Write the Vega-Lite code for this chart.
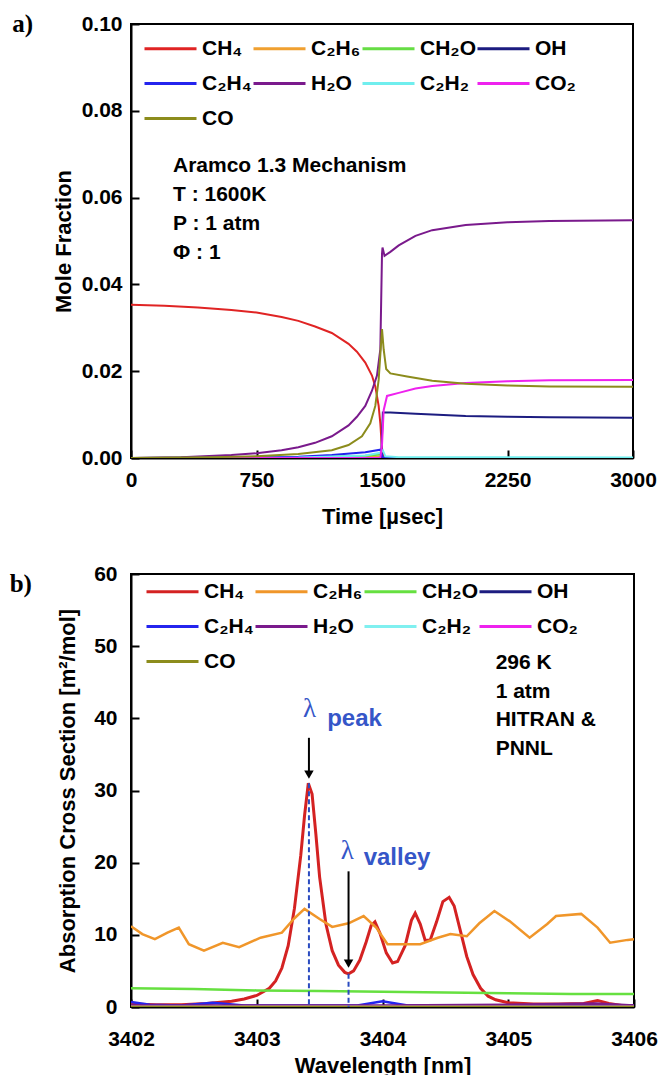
{
  "$schema": "https://vega.github.io/schema/vega-lite/v6.json",
  "padding": {"left": 8, "top": 11, "right": 5, "bottom": 0},
  "background": "white",
  "bounds": "flush",
  "spacing": 116,
  "resolve": {"scale": {"color": "independent"}, "legend": {"color": "independent"}},
  "config": {
    "font": "Liberation Sans",
    "view": {"stroke": "black", "strokeWidth": 2},
    "axis": {
      "grid": false, "domainColor": "black", "domainWidth": 2, "labelFlush": false,
      "tickColor": "black", "tickWidth": 2, "tickSize": -8,
      "labelFont": "Liberation Sans", "labelFontWeight": "bold", "labelFontSize": 21, "labelColor": "black",
      "titleFont": "Liberation Sans", "titleFontWeight": "bold", "titleFontSize": 22, "titleColor": "black"
    },
    "legend": {
      "orient": "none", "direction": "horizontal", "columns": 4, "symbolType": "M-2,0H2", "symbolSize": 676,
      "symbolStrokeWidth": 3, "labelFont": "Liberation Sans", "labelFontSize": 21, "labelFontWeight": "bold",
      "labelColor": "black", "labelOffset": 17, "rowPadding": 10, "columnPadding": -5, "padding": 0, "labelLimit": 300
    }
  },
  "datasets": {
    "a": [
      {"s": "CH₄", "t": 0, "v": 0.0353}, {"s": "CH₄", "t": 200, "v": 0.0351}, {"s": "CH₄", "t": 400, "v": 0.0347},
      {"s": "CH₄", "t": 600, "v": 0.0341}, {"s": "CH₄", "t": 750, "v": 0.0335}, {"s": "CH₄", "t": 900, "v": 0.0325},
      {"s": "CH₄", "t": 1000, "v": 0.0316}, {"s": "CH₄", "t": 1100, "v": 0.0303}, {"s": "CH₄", "t": 1200, "v": 0.0288},
      {"s": "CH₄", "t": 1300, "v": 0.0263}, {"s": "CH₄", "t": 1350, "v": 0.0245}, {"s": "CH₄", "t": 1400, "v": 0.022},
      {"s": "CH₄", "t": 1440, "v": 0.019}, {"s": "CH₄", "t": 1460, "v": 0.0165}, {"s": "CH₄", "t": 1480, "v": 0.012},
      {"s": "CH₄", "t": 1490, "v": 0.008}, {"s": "CH₄", "t": 1500, "v": 0.002}, {"s": "CH₄", "t": 1510, "v": 0.0001},
      {"s": "CH₄", "t": 1520, "v": 0}, {"s": "CH₄", "t": 3000, "v": 0},

      {"s": "C₂H₆", "t": 0, "v": 0}, {"s": "C₂H₆", "t": 1000, "v": 0.0002}, {"s": "C₂H₆", "t": 1300, "v": 0.0004},
      {"s": "C₂H₆", "t": 1450, "v": 0.0005}, {"s": "C₂H₆", "t": 1500, "v": 0.0001}, {"s": "C₂H₆", "t": 1520, "v": 0},
      {"s": "C₂H₆", "t": 3000, "v": 0},

      {"s": "CH₂O", "t": 0, "v": 0}, {"s": "CH₂O", "t": 1000, "v": 0.0002}, {"s": "CH₂O", "t": 1400, "v": 0.0005},
      {"s": "CH₂O", "t": 1490, "v": 0.0008}, {"s": "CH₂O", "t": 1505, "v": 0.0001}, {"s": "CH₂O", "t": 1520, "v": 0},
      {"s": "CH₂O", "t": 3000, "v": 0},

      {"s": "OH", "t": 0, "v": 0}, {"s": "OH", "t": 1495, "v": 0}, {"s": "OH", "t": 1505, "v": 0.0105},
      {"s": "OH", "t": 1550, "v": 0.0105}, {"s": "OH", "t": 1700, "v": 0.0102}, {"s": "OH", "t": 2000, "v": 0.0097},
      {"s": "OH", "t": 2250, "v": 0.0095}, {"s": "OH", "t": 2500, "v": 0.0094}, {"s": "OH", "t": 3000, "v": 0.0093},

      {"s": "C₂H₄", "t": 0, "v": 0}, {"s": "C₂H₄", "t": 750, "v": 0.0001}, {"s": "C₂H₄", "t": 1000, "v": 0.0003},
      {"s": "C₂H₄", "t": 1200, "v": 0.0007}, {"s": "C₂H₄", "t": 1400, "v": 0.0013}, {"s": "C₂H₄", "t": 1490, "v": 0.0019},
      {"s": "C₂H₄", "t": 1505, "v": 0.0002}, {"s": "C₂H₄", "t": 1520, "v": 0}, {"s": "C₂H₄", "t": 3000, "v": 0},

      {"s": "H₂O", "t": 0, "v": 0}, {"s": "H₂O", "t": 300, "v": 0.0002}, {"s": "H₂O", "t": 600, "v": 0.0007},
      {"s": "H₂O", "t": 750, "v": 0.0011}, {"s": "H₂O", "t": 900, "v": 0.0018}, {"s": "H₂O", "t": 1000, "v": 0.0025},
      {"s": "H₂O", "t": 1100, "v": 0.0035}, {"s": "H₂O", "t": 1200, "v": 0.005}, {"s": "H₂O", "t": 1300, "v": 0.0075},
      {"s": "H₂O", "t": 1350, "v": 0.0095}, {"s": "H₂O", "t": 1400, "v": 0.012}, {"s": "H₂O", "t": 1440, "v": 0.0155},
      {"s": "H₂O", "t": 1470, "v": 0.019}, {"s": "H₂O", "t": 1490, "v": 0.025}, {"s": "H₂O", "t": 1500, "v": 0.047},
      {"s": "H₂O", "t": 1503, "v": 0.0485}, {"s": "H₂O", "t": 1515, "v": 0.0466}, {"s": "H₂O", "t": 1550, "v": 0.0475},
      {"s": "H₂O", "t": 1600, "v": 0.049}, {"s": "H₂O", "t": 1700, "v": 0.0512}, {"s": "H₂O", "t": 1800, "v": 0.0525},
      {"s": "H₂O", "t": 2000, "v": 0.0537}, {"s": "H₂O", "t": 2250, "v": 0.0543}, {"s": "H₂O", "t": 2500, "v": 0.0546},
      {"s": "H₂O", "t": 3000, "v": 0.0548},

      {"s": "C₂H₂", "t": 0, "v": 0}, {"s": "C₂H₂", "t": 1000, "v": 0.0001}, {"s": "C₂H₂", "t": 1400, "v": 0.0006},
      {"s": "C₂H₂", "t": 1490, "v": 0.0012}, {"s": "C₂H₂", "t": 1505, "v": 0.0018}, {"s": "C₂H₂", "t": 1520, "v": 0.0004},
      {"s": "C₂H₂", "t": 1600, "v": 0.0002}, {"s": "C₂H₂", "t": 3000, "v": 0.0001},

      {"s": "CO₂", "t": 0, "v": 0}, {"s": "CO₂", "t": 1490, "v": 0}, {"s": "CO₂", "t": 1500, "v": 0.003},
      {"s": "CO₂", "t": 1510, "v": 0.011}, {"s": "CO₂", "t": 1530, "v": 0.0143}, {"s": "CO₂", "t": 1600, "v": 0.015},
      {"s": "CO₂", "t": 1700, "v": 0.016}, {"s": "CO₂", "t": 1800, "v": 0.0166}, {"s": "CO₂", "t": 2000, "v": 0.0173},
      {"s": "CO₂", "t": 2250, "v": 0.0177}, {"s": "CO₂", "t": 2500, "v": 0.0179}, {"s": "CO₂", "t": 3000, "v": 0.018},

      {"s": "CO", "t": 0, "v": 0}, {"s": "CO", "t": 500, "v": 0.0002}, {"s": "CO", "t": 750, "v": 0.0004},
      {"s": "CO", "t": 1000, "v": 0.0009}, {"s": "CO", "t": 1200, "v": 0.0018}, {"s": "CO", "t": 1300, "v": 0.003},
      {"s": "CO", "t": 1380, "v": 0.005}, {"s": "CO", "t": 1430, "v": 0.008}, {"s": "CO", "t": 1460, "v": 0.012},
      {"s": "CO", "t": 1480, "v": 0.018}, {"s": "CO", "t": 1492, "v": 0.025}, {"s": "CO", "t": 1500, "v": 0.0297},
      {"s": "CO", "t": 1510, "v": 0.025}, {"s": "CO", "t": 1525, "v": 0.0205}, {"s": "CO", "t": 1550, "v": 0.0195},
      {"s": "CO", "t": 1650, "v": 0.0188}, {"s": "CO", "t": 1800, "v": 0.0178}, {"s": "CO", "t": 2000, "v": 0.0171},
      {"s": "CO", "t": 2250, "v": 0.0167}, {"s": "CO", "t": 2500, "v": 0.0165}, {"s": "CO", "t": 3000, "v": 0.0164}
    ],
    "annA": [
      {"label": "Aramco 1.3 Mechanism", "t": 251, "v": 0.0673},
      {"label": "T : 1600K", "t": 251, "v": 0.0606},
      {"label": "P : 1 atm", "t": 251, "v": 0.0539},
      {"label": "Φ : 1", "t": 251, "v": 0.0472}
    ],
    "b": [
      {"s": "CH₄", "w": 3402.0, "v": 0.4}, {"s": "CH₄", "w": 3402.2, "v": 0.3}, {"s": "CH₄", "w": 3402.4, "v": 0.3},
      {"s": "CH₄", "w": 3402.6, "v": 0.5}, {"s": "CH₄", "w": 3402.8, "v": 0.8}, {"s": "CH₄", "w": 3402.9, "v": 1.1},
      {"s": "CH₄", "w": 3403.0, "v": 1.6}, {"s": "CH₄", "w": 3403.1, "v": 2.6}, {"s": "CH₄", "w": 3403.15, "v": 3.6},
      {"s": "CH₄", "w": 3403.2, "v": 5.4}, {"s": "CH₄", "w": 3403.25, "v": 8.5}, {"s": "CH₄", "w": 3403.3, "v": 13.7},
      {"s": "CH₄", "w": 3403.35, "v": 21}, {"s": "CH₄", "w": 3403.38, "v": 26.5}, {"s": "CH₄", "w": 3403.41, "v": 31.0},
      {"s": "CH₄", "w": 3403.44, "v": 29.5}, {"s": "CH₄", "w": 3403.47, "v": 24}, {"s": "CH₄", "w": 3403.5, "v": 18},
      {"s": "CH₄", "w": 3403.55, "v": 11.5}, {"s": "CH₄", "w": 3403.6, "v": 7.8}, {"s": "CH₄", "w": 3403.65, "v": 5.8},
      {"s": "CH₄", "w": 3403.7, "v": 4.8}, {"s": "CH₄", "w": 3403.73, "v": 4.6}, {"s": "CH₄", "w": 3403.77, "v": 5.0},
      {"s": "CH₄", "w": 3403.82, "v": 6.5}, {"s": "CH₄", "w": 3403.87, "v": 9.0}, {"s": "CH₄", "w": 3403.91, "v": 11.3},
      {"s": "CH₄", "w": 3403.94, "v": 11.8}, {"s": "CH₄", "w": 3403.98, "v": 10.2}, {"s": "CH₄", "w": 3404.03, "v": 7.5},
      {"s": "CH₄", "w": 3404.08, "v": 6.1}, {"s": "CH₄", "w": 3404.12, "v": 6.3}, {"s": "CH₄", "w": 3404.18, "v": 8.5},
      {"s": "CH₄", "w": 3404.23, "v": 12.0}, {"s": "CH₄", "w": 3404.26, "v": 13.0}, {"s": "CH₄", "w": 3404.3, "v": 11.5},
      {"s": "CH₄", "w": 3404.34, "v": 9.2}, {"s": "CH₄", "w": 3404.38, "v": 9.3}, {"s": "CH₄", "w": 3404.43, "v": 11.8},
      {"s": "CH₄", "w": 3404.48, "v": 14.6}, {"s": "CH₄", "w": 3404.53, "v": 15.2}, {"s": "CH₄", "w": 3404.57, "v": 14.0},
      {"s": "CH₄", "w": 3404.62, "v": 10.5}, {"s": "CH₄", "w": 3404.67, "v": 7.0}, {"s": "CH₄", "w": 3404.72, "v": 4.5},
      {"s": "CH₄", "w": 3404.78, "v": 2.6}, {"s": "CH₄", "w": 3404.84, "v": 1.5}, {"s": "CH₄", "w": 3404.9, "v": 1.0},
      {"s": "CH₄", "w": 3405.0, "v": 0.6}, {"s": "CH₄", "w": 3405.2, "v": 0.4}, {"s": "CH₄", "w": 3405.4, "v": 0.4},
      {"s": "CH₄", "w": 3405.6, "v": 0.5}, {"s": "CH₄", "w": 3405.71, "v": 0.9}, {"s": "CH₄", "w": 3405.8, "v": 0.5},
      {"s": "CH₄", "w": 3405.9, "v": 0.2}, {"s": "CH₄", "w": 3406.0, "v": 0.2},

      {"s": "C₂H₆", "w": 3402.0, "v": 11.2}, {"s": "C₂H₆", "w": 3402.09, "v": 10.1}, {"s": "C₂H₆", "w": 3402.19, "v": 9.4},
      {"s": "C₂H₆", "w": 3402.29, "v": 10.3}, {"s": "C₂H₆", "w": 3402.38, "v": 11.0}, {"s": "C₂H₆", "w": 3402.46, "v": 8.7},
      {"s": "C₂H₆", "w": 3402.58, "v": 7.8}, {"s": "C₂H₆", "w": 3402.73, "v": 8.9}, {"s": "C₂H₆", "w": 3402.86, "v": 8.3},
      {"s": "C₂H₆", "w": 3403.03, "v": 9.6}, {"s": "C₂H₆", "w": 3403.2, "v": 10.3}, {"s": "C₂H₆", "w": 3403.3, "v": 12.3},
      {"s": "C₂H₆", "w": 3403.38, "v": 13.6}, {"s": "C₂H₆", "w": 3403.5, "v": 12.2}, {"s": "C₂H₆", "w": 3403.6, "v": 11.1},
      {"s": "C₂H₆", "w": 3403.73, "v": 11.6}, {"s": "C₂H₆", "w": 3403.85, "v": 12.6}, {"s": "C₂H₆", "w": 3403.95, "v": 11.0},
      {"s": "C₂H₆", "w": 3404.04, "v": 8.7}, {"s": "C₂H₆", "w": 3404.3, "v": 8.7}, {"s": "C₂H₆", "w": 3404.44, "v": 9.6},
      {"s": "C₂H₆", "w": 3404.54, "v": 10.1}, {"s": "C₂H₆", "w": 3404.67, "v": 9.8}, {"s": "C₂H₆", "w": 3404.77, "v": 11.6},
      {"s": "C₂H₆", "w": 3404.89, "v": 13.3}, {"s": "C₂H₆", "w": 3405.01, "v": 11.9}, {"s": "C₂H₆", "w": 3405.17, "v": 9.6},
      {"s": "C₂H₆", "w": 3405.31, "v": 11.5}, {"s": "C₂H₆", "w": 3405.38, "v": 12.6}, {"s": "C₂H₆", "w": 3405.58, "v": 12.9},
      {"s": "C₂H₆", "w": 3405.71, "v": 11.0}, {"s": "C₂H₆", "w": 3405.81, "v": 8.9}, {"s": "C₂H₆", "w": 3405.95, "v": 9.3},
      {"s": "C₂H₆", "w": 3406.0, "v": 9.4},

      {"s": "CH₂O", "w": 3402.0, "v": 2.6}, {"s": "CH₂O", "w": 3402.5, "v": 2.5}, {"s": "CH₂O", "w": 3403.0, "v": 2.3},
      {"s": "CH₂O", "w": 3403.5, "v": 2.2}, {"s": "CH₂O", "w": 3404.0, "v": 2.1}, {"s": "CH₂O", "w": 3404.5, "v": 2.0},
      {"s": "CH₂O", "w": 3405.0, "v": 1.9}, {"s": "CH₂O", "w": 3405.5, "v": 1.8}, {"s": "CH₂O", "w": 3406.0, "v": 1.8},

      {"s": "OH", "w": 3402.0, "v": 0.15}, {"s": "OH", "w": 3403.0, "v": 0.1}, {"s": "OH", "w": 3404.0, "v": 0.1},
      {"s": "OH", "w": 3405.0, "v": 0.1}, {"s": "OH", "w": 3406.0, "v": 0.1},

      {"s": "C₂H₄", "w": 3402.0, "v": 0.7}, {"s": "C₂H₄", "w": 3402.15, "v": 0.3}, {"s": "C₂H₄", "w": 3402.4, "v": 0.2},
      {"s": "C₂H₄", "w": 3402.65, "v": 0.6}, {"s": "C₂H₄", "w": 3402.9, "v": 0.2}, {"s": "C₂H₄", "w": 3403.8, "v": 0.2},
      {"s": "C₂H₄", "w": 3404.0, "v": 0.8}, {"s": "C₂H₄", "w": 3404.2, "v": 0.2}, {"s": "C₂H₄", "w": 3406.0, "v": 0.2},

      {"s": "H₂O", "w": 3402.0, "v": 0.2}, {"s": "H₂O", "w": 3403.0, "v": 0.2}, {"s": "H₂O", "w": 3404.0, "v": 0.2},
      {"s": "H₂O", "w": 3405.0, "v": 0.3}, {"s": "H₂O", "w": 3405.7, "v": 0.5}, {"s": "H₂O", "w": 3406.0, "v": 0.2},

      {"s": "C₂H₂", "w": 3402.0, "v": 0.05}, {"s": "C₂H₂", "w": 3406.0, "v": 0.05},
      {"s": "CO₂", "w": 3402.0, "v": 0.05}, {"s": "CO₂", "w": 3406.0, "v": 0.05},
      {"s": "CO", "w": 3402.0, "v": 0.05}, {"s": "CO", "w": 3406.0, "v": 0.05}
    ],
    "dashes": [
      {"w": 3403.415, "v": 31.0, "z": 0},
      {"w": 3403.73, "v": 4.6, "z": 0}
    ],
    "arrows": [
      {"w": 3403.415, "top": 37.3, "tip": 32.2},
      {"w": 3403.73, "top": 18.8, "tip": 6.0}
    ],
    "lambdas": [
      {"w": 3403.42, "v": 41.3},
      {"w": 3403.72, "v": 21.6}
    ],
    "subs": [
      {"label": "peak", "w": 3403.56, "v": 39.9},
      {"label": "valley", "w": 3403.85, "v": 20.6}
    ],
    "annB": [
      {"label": "296 K", "w": 3404.9, "v": 47.6},
      {"label": "1 atm", "w": 3404.9, "v": 43.6},
      {"label": "HITRAN &", "w": 3404.9, "v": 39.7},
      {"label": "PNNL", "w": 3404.9, "v": 35.7}
    ]
  },
  "vconcat": [
    {
      "width": 502,
      "height": 434,
      "title": {"text": "a)", "anchor": "start", "frame": "bounds", "font": "Liberation Serif", "fontSize": 25, "fontWeight": "bold", "color": "black", "dx": -40, "dy": 28},
      "layer": [
        {
          "data": {"name": "a"},
          "mark": {"type": "line", "strokeWidth": 2, "clip": true},
          "encoding": {
            "x": {"field": "t", "type": "quantitative", "scale": {"domain": [0, 3000], "nice": false},
                  "axis": {"values": [0, 750, 1500, 2250, 3000], "format": "d", "title": "Time [µsec]", "labelPadding": 19, "titlePadding": 16}},
            "y": {"field": "v", "type": "quantitative", "scale": {"domain": [0, 0.1], "nice": false},
                  "axis": {"values": [0, 0.02, 0.04, 0.06, 0.08, 0.1], "format": ".2f", "title": "Mole Fraction", "labelPadding": 17, "titlePadding": 6}},
            "color": {"field": "s", "type": "nominal",
                      "scale": {"domain": ["CH₄", "C₂H₆", "CH₂O", "OH", "C₂H₄", "H₂O", "C₂H₂", "CO₂", "CO"],
                                "range": ["#e02424", "#f0a030", "#66dd44", "#1c1c80", "#2424ee", "#7a1a8c", "#70eeee", "#ee22ee", "#8c8c1c"]},
                      "legend": {"title": null, "legendX": 25, "legendY": 10}}
          }
        },
        {
          "data": {"name": "annA"},
          "mark": {"type": "text", "align": "left", "baseline": "middle", "fontSize": 21, "fontWeight": "bold", "color": "black"},
          "encoding": {
            "x": {"field": "t", "type": "quantitative"},
            "y": {"field": "v", "type": "quantitative"},
            "text": {"field": "label", "type": "nominal"}
          }
        }
      ]
    },
    {
      "width": 503,
      "height": 433,
      "title": {"text": "b)", "anchor": "start", "frame": "bounds", "font": "Liberation Serif", "fontSize": 25, "fontWeight": "bold", "color": "black", "dx": -47, "dy": 38},
      "layer": [
        {
          "data": {"name": "b"},
          "mark": {"type": "line", "clip": true},
          "encoding": {
            "x": {"field": "w", "type": "quantitative", "scale": {"domain": [3402, 3406], "nice": false},
                  "axis": {"values": [3402, 3403, 3404, 3405, 3406], "format": "d", "title": "Wavelength [nm]", "labelPadding": 29, "titlePadding": 6}},
            "y": {"field": "v", "type": "quantitative", "scale": {"domain": [0, 60], "nice": false},
                  "axis": {"values": [0, 10, 20, 30, 40, 50, 60], "title": "Absorption Cross Section [m²/mol]", "labelPadding": 22, "titlePadding": 14}},
            "color": {"field": "s", "type": "nominal",
                      "scale": {"domain": ["CH₄", "C₂H₆", "CH₂O", "OH", "C₂H₄", "H₂O", "C₂H₂", "CO₂", "CO"],
                                "range": ["#d42222", "#f0962a", "#66e040", "#1c1c80", "#2424ee", "#7a1a8c", "#80f0f0", "#ee22ee", "#8c8c1c"]},
                      "legend": {"title": null, "legendX": 27, "legendY": 3}},
            "strokeWidth": {"condition": {"test": "datum.s === 'CH₄'", "value": 3}, "value": 2.5}
          }
        },
        {
          "data": {"name": "dashes"},
          "mark": {"type": "rule", "color": "#2a4bc0", "strokeWidth": 2, "strokeDash": [5, 3]},
          "encoding": {
            "x": {"field": "w", "type": "quantitative"},
            "y": {"field": "v", "type": "quantitative"},
            "y2": {"field": "z"}
          }
        },
        {
          "data": {"name": "arrows"},
          "mark": {"type": "rule", "color": "black", "strokeWidth": 2},
          "encoding": {
            "x": {"field": "w", "type": "quantitative"},
            "y": {"field": "top", "type": "quantitative"},
            "y2": {"field": "tip"}
          }
        },
        {
          "data": {"name": "arrows"},
          "mark": {"type": "point", "shape": "triangle-down", "filled": true, "color": "black", "size": 90, "opacity": 1},
          "encoding": {
            "x": {"field": "w", "type": "quantitative"},
            "y": {"field": "tip", "type": "quantitative"}
          }
        },
        {
          "data": {"name": "lambdas"},
          "mark": {"type": "text", "text": "λ", "align": "center", "baseline": "middle", "font": "Liberation Serif", "fontSize": 27, "color": "#3556c8"},
          "encoding": {
            "x": {"field": "w", "type": "quantitative"},
            "y": {"field": "v", "type": "quantitative"}
          }
        },
        {
          "data": {"name": "subs"},
          "mark": {"type": "text", "align": "left", "baseline": "middle", "fontSize": 24, "fontWeight": "bold", "color": "#3556c8"},
          "encoding": {
            "x": {"field": "w", "type": "quantitative"},
            "y": {"field": "v", "type": "quantitative"},
            "text": {"field": "label", "type": "nominal"}
          }
        },
        {
          "data": {"name": "annB"},
          "mark": {"type": "text", "align": "left", "baseline": "middle", "fontSize": 21, "fontWeight": "bold", "color": "black"},
          "encoding": {
            "x": {"field": "w", "type": "quantitative"},
            "y": {"field": "v", "type": "quantitative"},
            "text": {"field": "label", "type": "nominal"}
          }
        }
      ]
    }
  ]
}
